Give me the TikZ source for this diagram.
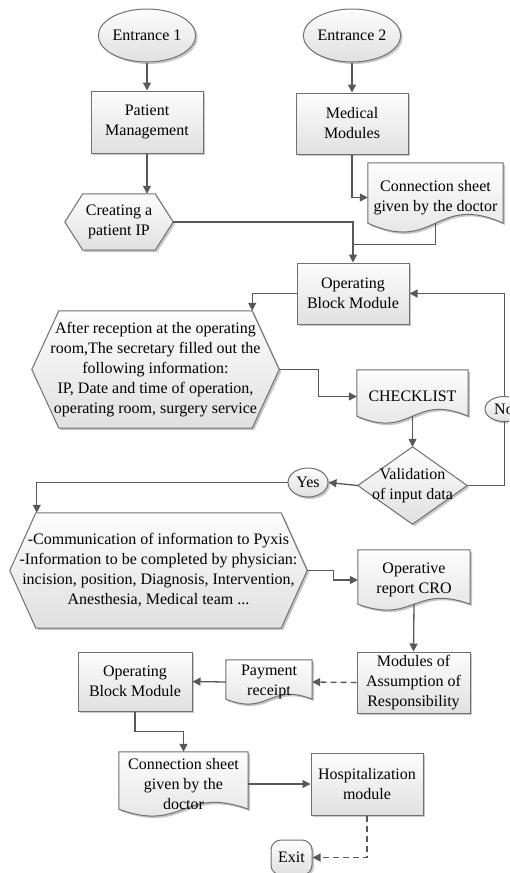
\documentclass[tikz,border=0pt]{standalone}
\usepackage{fontspec}
\setmainfont{Liberation Serif}
\usetikzlibrary{arrows.meta,calc,shapes.geometric,shadows,backgrounds}

\definecolor{edge}{RGB}{112,112,112}
\definecolor{wire}{RGB}{88,88,88}
\definecolor{shadetop}{RGB}{253,253,253}
\definecolor{shadebot}{RGB}{224,224,224}

% hexagon with pointed left/right ends, drawn around a placeholder node
\newcommand\hexshape[2]{%
  \path[skin] ($(#1.north west)+(#2,0)$) -- ($(#1.north east)+(-#2,0)$) -- (#1.east)
    -- ($(#1.south east)+(-#2,0)$) -- ($(#1.south west)+(#2,0)$) -- (#1.west) -- cycle;}
% document sheet with a wavy lower edge; #2 = rise of the corners above the trough
\newcommand\docshape[2]{%
  \path[skin] (#1.north west) -- (#1.north east) -- ($(#1.south east)+(0,-#2)$)
    .. controls ($(#1.south)+(0,{-4.4*#2})$) and ($(#1.south)+(0,{2.4*#2})$)
    .. ($(#1.south west)+(0,-#2)$) -- cycle;}
% decision diamond
\newcommand\diamondshape[1]{%
  \path[skin] (#1.north) -- (#1.east) -- (#1.south) -- (#1.west) -- cycle;}

\tikzset{
  txt/.style={font=\fontsize{16}{20}\selectfont, align=center, inner sep=0pt, text=black},
  skin/.style={draw=edge, line width=1pt, top color=shadetop, bottom color=shadebot,
    drop shadow={shadow xshift=2pt, shadow yshift=-2pt, opacity=0.22, fill=black}},
  box/.style={txt, skin, rectangle},
  oval/.style={txt, skin, ellipse},
  holder/.style={txt, rectangle},
  link/.style={draw=wire, line width=1.3pt},
  flow/.style={link, -{Triangle[length=8pt,width=8pt]}},
  flowdash/.style={flow, dash pattern=on 6pt off 4pt},
}

\begin{document}
\begin{tikzpicture}[x=1pt, y=-1pt]
\clip (0,0) rectangle (509,873);

% ---- shapes ----
\node[oval, minimum width=84pt, minimum height=53pt] (e1) at (147,35.5) {Entrance 1};
\node[oval, minimum width=84pt, minimum height=53pt] (e2) at (352,35.5) {Entrance 2};
\node[box, minimum width=112pt, minimum height=62pt] (pm) at (147,122) {Patient\\Management};
\node[box, minimum width=112pt, minimum height=61pt] (mm) at (352,123.5) {Medical\\Modules};
\node[holder, minimum width=108pt, minimum height=56pt] (cip) at (119,222) {Creating a\\patient IP};
\node[holder, minimum width=135pt, minimum height=69pt] (cs1) at (435.5,197.5) {Connection sheet\\given by the doctor};
\node[box, minimum width=112pt, minimum height=61pt] (obm) at (353,293.5) {Operating\\Block Module};
\node[holder, minimum width=247pt, minimum height=117pt] (after) at (155.5,369.5)
  {After reception at the operating\\room,The secretary filled out the\\following information:\\IP, Date and time of operation,\\operating room, surgery service};
\node[holder, minimum width=111pt, minimum height=53pt] (chk) at (412.5,396.5) {CHECKLIST};
\node[holder, minimum width=109pt, minimum height=77pt] (val) at (412.5,485.5) {Validation\\of input data};
\node[oval, minimum width=40pt, minimum height=29pt] (yes) at (308,482.5) {Yes};
\node[holder, minimum width=297pt, minimum height=115pt] (comm) at (158.5,570.5)
  {-Communication of information to Pyxis\\-Information to be completed by physician:\\incision, position, Diagnosis, Intervention,\\Anesthesia, Medical team ...};
\node[holder, minimum width=112pt, minimum height=60pt] (op) at (414,580) {Operative\\report CRO};
\node[box, minimum width=113pt, minimum height=61pt] (mar) at (413.5,682.5) {Modules of\\Assumption of\\Responsibility};
\node[holder, minimum width=86pt, minimum height=44pt] (pay) at (269,682) {Payment\\receipt};
\node[box, minimum width=114pt, minimum height=59pt] (obm2) at (135,681.5) {Operating\\Block Module};
\node[holder, minimum width=129pt, minimum height=64pt] (cs2) at (183.5,784) {Connection sheet\\given by the\\doctor};
\node[box, minimum width=112pt, minimum height=62pt] (hosp) at (367,784) {Hospitalization\\module};
\node[box, rounded corners=10pt, minimum width=41pt, minimum height=35pt] (exit) at (291.5,857.5) {Exit};

% outlines of the non-standard shapes, behind their texts
\begin{scope}[on background layer]
  \hexshape{cip}{18}
  \hexshape{after}{27}
  \hexshape{comm}{26}
  \docshape{cs1}{9}
  \docshape{chk}{7}
  \docshape{op}{6}
  \docshape{pay}{5}
  \docshape{cs2}{7}
  \diamondshape{val}
\end{scope}

% ---- connectors ----
\draw[flow] (e1) -- (pm);
\draw[flow] (e2) -- (mm);
\draw[flow] (pm.south) -- (pm.south |- cip.north);
\draw[flow] (mm.south) |- (cs1.west);
\coordinate (merge) at ($(obm.north)+(0,-18)$);
\draw[flow] (cip.east) -| (obm.north);
\draw[link] ($(cs1.south)+(0,-9)$) |- (merge);
\draw[flow] (obm.west) -| ($(after.north east)+(-27,0)$);
\draw[flow] (after.east) -- ++(39,0) |- (chk.west);
\draw[flow] ($(chk.south)+(0,-7)$) -- (val.north);
\draw[flow] (val.east) -- ++(37,0) |- (obm.east);
\draw[flow] (val.west) -- (yes.east);
\draw[flow] (yes.west) -| ($(comm.north west)+(27,0)$);
\draw[flow] (comm.east) -- ++(26,0) |- (op.west);
\draw[flow] ($(op.south)+(0,-6)$) -- (mar.north);
\draw[flowdash] (mar.west) -- (pay.east);
\draw[flow] (pay.west) -- (obm2.east);
\draw[flow] (obm2.south) -- ++(0,20) -| (cs2.north);
\draw[flow] (cs2.east) -- (hosp.west);
\draw[flowdash] (hosp.south) |- (exit.east);

% loop-back label sitting on the return line
\node[oval, minimum width=38pt, minimum height=25pt] (no) at (504,409) {No};
\end{tikzpicture}
\end{document}
